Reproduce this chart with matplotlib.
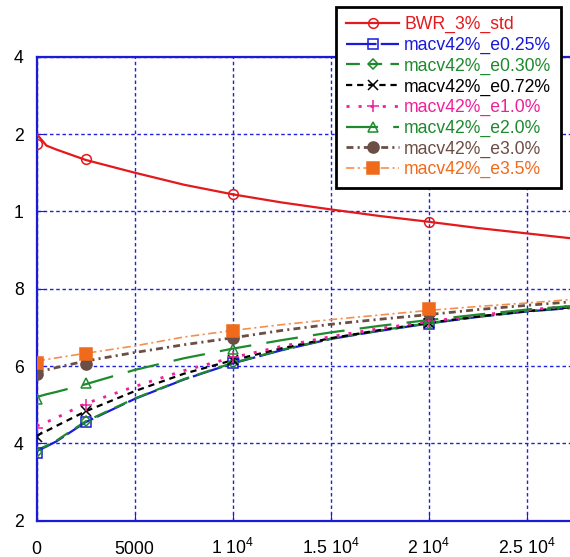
import matplotlib
matplotlib.use("Agg")
import matplotlib.pyplot as plt
from matplotlib.lines import Line2D

plt.rcParams["font.family"] = "Liberation Sans"
plt.rcParams["mathtext.fontset"] = "custom"
plt.rcParams["mathtext.rm"] = "Liberation Sans"
plt.rcParams["lines.scale_dashes"] = False

# burnup points of the calculated cases and of the fitted curves
calc_x = [0, 2500, 10000, 20000]
fit_x = [0, 500, 1000, 2500, 5000, 7500, 10000, 12500, 15000, 17500,
         20000, 22500, 25000, 27500]

# k-inf at the calculated points
bwr_pts = [1.1174, 1.1135, 1.1046, 1.0972]
e025_pts = [1.0376, 1.0455, 1.0608, 1.0709]
e030_pts = [1.0378, 1.0458, 1.0608, 1.0710]
e072_pts = [1.0417, 1.0485, 1.0615, 1.0712]
e10_pts = [1.0440, 1.0500, 1.0624, 1.0716]
e20_pts = [1.0515, 1.0557, 1.0643, 1.0724]
e30_pts = [1.0580, 1.0606, 1.0673, 1.0738]
e35_pts = [1.0608, 1.0632, 1.0690, 1.0748]

# fitted curves
bwr_fit = [1.1200, 1.1170, 1.1160, 1.1133, 1.1100, 1.1069, 1.1044, 1.1023,
           1.1005, 1.0988, 1.0973, 1.0957, 1.0943, 1.0929]
e025_fit = [1.0380, 1.0392, 1.0405, 1.0455, 1.0515, 1.0565, 1.0607, 1.0641,
            1.0670, 1.0691, 1.0710, 1.0727, 1.0741, 1.0751]
e030_fit = [1.0382, 1.0394, 1.0407, 1.0457, 1.0516, 1.0566, 1.0608, 1.0642,
            1.0671, 1.0692, 1.0711, 1.0728, 1.0742, 1.0752]
e072_fit = [1.0420, 1.0432, 1.0445, 1.0483, 1.0535, 1.0580, 1.0615, 1.0646,
            1.0672, 1.0693, 1.0712, 1.0728, 1.0742, 1.0753]
e10_fit = [1.0445, 1.0455, 1.0466, 1.0503, 1.0547, 1.0588, 1.0622, 1.0651,
           1.0676, 1.0697, 1.0715, 1.0731, 1.0745, 1.0756]
e20_fit = [1.0520, 1.0527, 1.0533, 1.0553, 1.0590, 1.0620, 1.0645, 1.0667,
           1.0687, 1.0704, 1.0719, 1.0733, 1.0746, 1.0756]
e30_fit = [1.0585, 1.0590, 1.0596, 1.0613, 1.0635, 1.0655, 1.0673, 1.0692,
           1.0708, 1.0721, 1.0733, 1.0746, 1.0757, 1.0767]
e35_fit = [1.0613, 1.0617, 1.0621, 1.0633, 1.0652, 1.0675, 1.0692, 1.0707,
           1.0720, 1.0732, 1.0744, 1.0754, 1.0763, 1.0773]

names = ["BWR_3%_std", "macv42%_e0.25%", "macv42%_e0.30%", "macv42%_e0.72%",
         "macv42%_e1.0%", "macv42%_e2.0%", "macv42%_e3.0%", "macv42%_e3.5%"]

y_ticks = [1.02, 1.04, 1.06, 1.08, 1.10, 1.12, 1.14]
y_ticklabels = ["2", "4", "6", "8", "1", "2", "4"]
x_ticks = [0, 5000, 10000, 15000, 20000, 25000]
x_ticklabels = ["0", "5000", "1 10$^{4}$", "1.5 10$^{4}$", "2 10$^{4}$",
                "2.5 10$^{4}$"]

pts = [bwr_pts, e025_pts, e030_pts, e072_pts, e10_pts, e20_pts, e30_pts, e35_pts]
fits = [bwr_fit, e025_fit, e030_fit, e072_fit, e10_fit, e20_fit, e30_fit, e35_fit]

# colour, linestyle, linewidth, marker, marker size, filled, line colour
styles = [
    ("#e3191c", "-", 1.6, "o", 7, False, "#e3191c"),
    ("#1a1ad8", (0, (22, 3)), 1.6, "s", 6.5, False, "#1a1ad8"),
    ("#1e8a2e", (0, (10, 6)), 1.6, "D", 5, False, "#1e8a2e"),
    ("black", (0, (4.5, 3.5)), 1.6, "x", 7, False, "black"),
    ("#f0209a", (0, (2.2, 6.5)), 2.0, "+", 8, False, "#f0209a"),
    ("#1e8a2e", (0, (23, 11)), 1.6, "^", 7, False, "#1e8a2e"),
    ("#6b4e45", (0, (5, 3, 1.5, 3)), 2.0, "o", 8, True, "#6b4e45"),
    ("#f06a1c", (0, (6, 2.5, 1.5, 2.5)), 1.2, "s", 8.5, True, "#f39050"),
]

fig = plt.figure(figsize=(5.7, 5.57), dpi=100)
ax = fig.add_axes([36.7 / 570, 36.3 / 557, 1 - 36.7 / 570, 464 / 557])

handles = []
for p, f, st in zip(pts, fits, styles):
    col, ls, lw, mk, ms, filled, lcol = st
    ax.plot(fit_x, f, color=lcol, linestyle=ls, linewidth=lw, zorder=3)
    mface = col if filled else "none"
    ax.plot(calc_x, p, linestyle="none", marker=mk, markersize=ms,
            markerfacecolor=mface, markeredgecolor=col, markeredgewidth=1.1,
            zorder=4)
    handles.append(Line2D([], [], color=lcol, linestyle=ls, linewidth=lw,
                          marker=mk, markersize=ms, markerfacecolor=mface,
                          markeredgecolor=col, markeredgewidth=1.1))

ax.set_xlim(0, 27200)
ax.set_ylim(1.02, 1.14)
ax.set_yticks(y_ticks, y_ticklabels)
ax.set_xticks(x_ticks, x_ticklabels)
for t in ax.get_xticklabels():
    t.set_verticalalignment("baseline")

ax.tick_params(axis="both", direction="in", length=6, color="#1a1ad8",
               labelsize=12.7)
ax.tick_params(axis="x", pad=24)
ax.tick_params(axis="y", pad=9.5)

ax.grid(True, color="#2020e0", linestyle=(0, (2.5, 2)), linewidth=1.0)
ax.set_axisbelow(True)
for side in ["left", "bottom", "top"]:
    ax.spines[side].set_color("#1a1ad8")
    ax.spines[side].set_linewidth(1.6)
ax.spines["right"].set_visible(False)

leg = ax.legend(handles, names, loc="upper right",
                bbox_to_anchor=(561 / 570, 1 - 6.5 / 557),
                bbox_transform=fig.transFigure, numpoints=1,
                fontsize=12.7, handlelength=3.0, handletextpad=0.28,
                labelspacing=0.2, borderpad=0.55, borderaxespad=0,
                fancybox=False, framealpha=1, edgecolor="black")
leg.get_frame().set_linewidth(2)
for txt, st in zip(leg.get_texts(), styles):
    txt.set_color(st[0])

fig.savefig("out.png", dpi=100)
